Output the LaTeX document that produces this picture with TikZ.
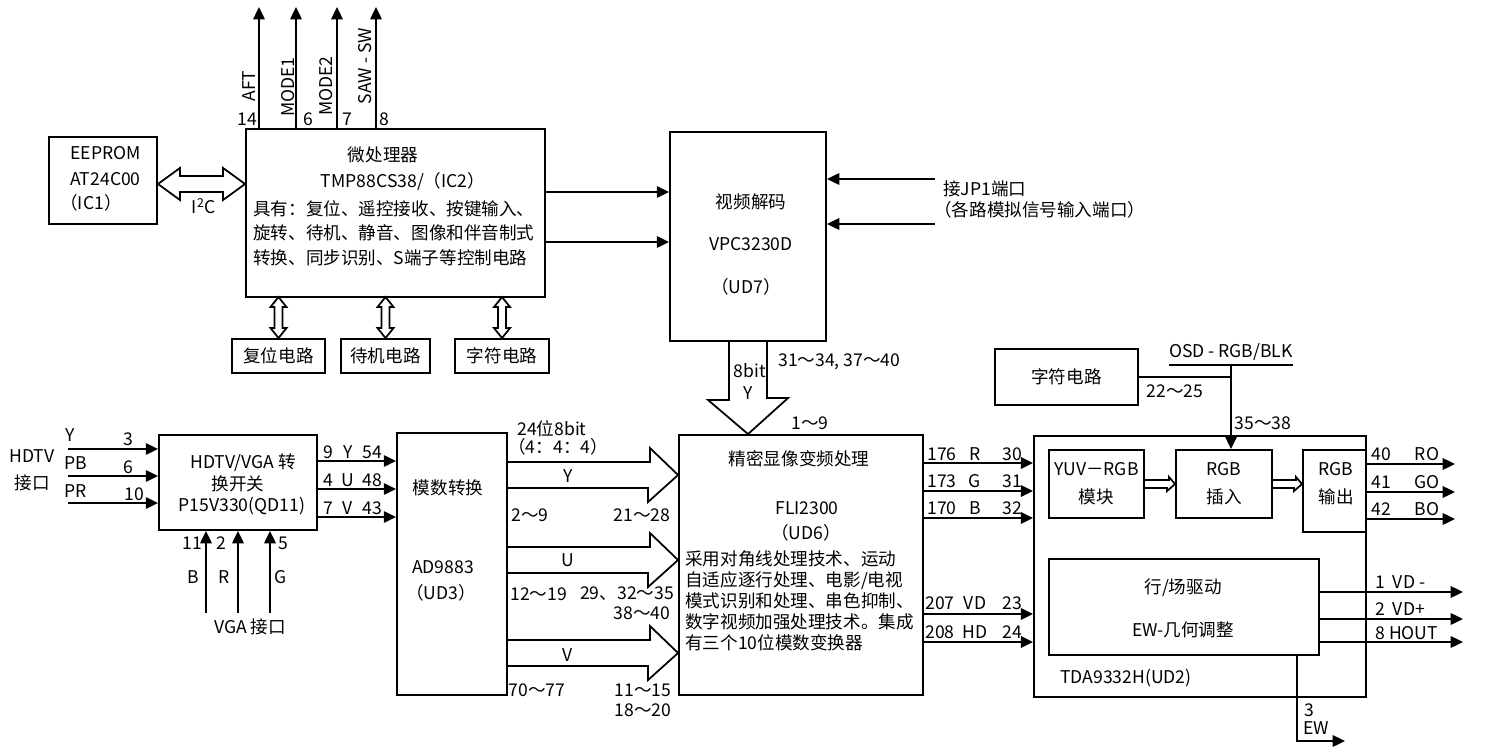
\documentclass[tikz,border=0pt]{standalone}
\usepackage{fontspec}
\setmainfont{Noto Sans CJK SC}
\usetikzlibrary{arrows.meta,calc}

\begin{document}
\begin{tikzpicture}[x=0.02cm, y=-0.02cm,
    box/.style={draw, line width=1.1pt, inner sep=0pt, font=\fontsize{10}{12}\selectfont},
    lbl/.style={inner sep=0pt, font=\fontsize{10}{12}\selectfont},
    sig/.style={line width=1.1pt, -{Triangle[length=7pt,width=6.5pt]}},
    hollow/.style={draw, line width=1pt, line join=miter}]
  \useasboundingbox (0,0) rectangle (1500,749);

  % EEPROM and microprocessor
  \node[box, minimum width=2.16cm, minimum height=1.74cm] (eeprom) at (103,180.5) {};
  \node[lbl, anchor=west] (eeprom1) at (70,153) {EEPROM};
  \node[lbl, anchor=west] (eeprom2) at (70,179) {AT24C00};
  \node[lbl, anchor=west] (eeprom3) at (60,203) {（IC1）};
  \node[box, minimum width=5.98cm, minimum height=3.36cm] (cpu) at (395.5,213) {};
  \node[lbl] (cpu1) at (383,155) {微处理器};
  \node[lbl] (cpu2) at (403,182) {TMP88CS38/（IC2）};
  \node[lbl, anchor=north west, align=left, font=\fontsize{10}{14}\selectfont] (cpu3) at (253,200)
    {具有：复位、遥控接收、按键输入、\\旋转、待机、静音、图像和伴音制式\\转换、同步识别、S端子等控制电路};
  \draw[hollow] (eeprom.east |- 0,184) -- ++(22,-16) -- ++(0,8) -- ($(cpu.west |- 0,176)+(-22,0)$)
    -- ++(0,-8) -- (cpu.west |- 0,184) -- ++(-22,16) -- ++(0,-8) -- ($(eeprom.east |- 0,192)+(22,0)$)
    -- ++(0,8) -- cycle;
  \node[lbl] (i2c) at (204,206) {I\textsuperscript{2}C};

  % Control outputs on top
  \coordinate (aft) at (259,7);
  \coordinate (modea) at (296,7);
  \coordinate (modeb) at (337,7);
  \coordinate (saw) at (376,7);
  \draw[sig] (cpu.north -| aft) -- (aft);
  \draw[sig] (cpu.north -| modea) -- (modea);
  \draw[sig] (cpu.north -| modeb) -- (modeb);
  \draw[sig] (cpu.north -| saw) -- (saw);
  \node[lbl, rotate=90] (aftl) at (249,86) {AFT};
  \node[lbl, rotate=90] (modeal) at (288,87) {MODE1};
  \node[lbl, rotate=90] (modebl) at (326,86) {MODE2};
  \node[lbl, rotate=90] (sawl) at (365,66) {SAW - SW};
  \node[lbl] (pin14) at (247,119) {14};
  \node[lbl] (pin6) at (308,119) {6};
  \node[lbl] (pin7) at (347,119) {7};
  \node[lbl] (pin8) at (384,119) {8};

  % Small circuits under the microprocessor
  \node[box, minimum width=1.86cm, minimum height=0.68cm] (rst) at (278.5,356) {复位电路};
  \node[box, minimum width=1.78cm, minimum height=0.68cm] (stby) at (385.5,356) {待机电路};
  \node[box, minimum width=1.88cm, minimum height=0.68cm] (chra) at (502,356) {字符电路};
  \foreach \b in {rst,stby,chra}
    \draw[hollow] (\b.north) -- ++(-8,-10) -- ++(4,0) -- ++(0,-21) -- ++(-4,0) -- ++(8,-10)
      -- ++(8,10) -- ++(-4,0) -- ++(0,21) -- ++(4,0) -- cycle;

  % Video decoder
  \node[box, minimum width=3.12cm, minimum height=4.18cm] (vd) at (748,236.5) {};
  \node[lbl] (vd1) at (751,202) {视频解码};
  \node[lbl] (vd2) at (751,244) {VPC3230D};
  \node[lbl] (vd3) at (746,287) {（UD7）};
  \draw[sig] (cpu.east |- 0,192) -- (vd.west |- 0,192);
  \draw[sig] (cpu.east |- 0,242) -- (vd.west |- 0,242);
  \coordinate (jpa) at (935,179);
  \coordinate (jpb) at (935,224);
  \draw[sig] (jpa) -- (vd.east |- jpa);
  \draw[sig] (jpb) -- (vd.east |- jpb);
  \node[lbl, anchor=west] (jp1) at (943,189) {接JP1端口};
  \node[lbl, anchor=west] (jp2) at (934,210) {（各路模拟信号输入端口）};

  % HDTV / VGA switch
  \node[box, minimum width=3.16cm, minimum height=1.9cm] (sw) at (238,482.5) {};
  \node[lbl] (sw1) at (243,463) {HDTV/VGA 转};
  \node[lbl] (sw2) at (238,484) {换开关};
  \node[lbl] (sw3) at (242,506) {P15V330(QD11)};
  \node[lbl] (hdtv1) at (32,456) {HDTV};
  \node[lbl] (hdtv2) at (32,483) {接口};
  \coordinate (hy) at (68,449);
  \coordinate (hpb) at (68,476);
  \coordinate (hpr) at (68,503);
  \draw[sig] (hy) -- (sw.west |- hy);
  \draw[sig] (hpb) -- (sw.west |- hpb);
  \draw[sig] (hpr) -- (sw.west |- hpr);
  \node[lbl] (hyl) at (70,435) {Y};
  \node[lbl] (hpbl) at (76,463) {PB};
  \node[lbl] (hprl) at (76,491) {PR};
  \node[lbl] (hyn) at (128,439) {3};
  \node[lbl] (hpbn) at (128,467) {6};
  \node[lbl] (hprn) at (134,494) {10};
  \coordinate (vb) at (206,613);
  \coordinate (vr) at (238,613);
  \coordinate (vg) at (270,613);
  \draw[sig] (vb) -- (sw.south -| vb);
  \draw[sig] (vr) -- (sw.south -| vr);
  \draw[sig] (vg) -- (sw.south -| vg);
  \node[lbl] (vbn) at (192,543) {11};
  \node[lbl] (vrn) at (221,543) {2};
  \node[lbl] (vgn) at (283,543) {5};
  \node[lbl] (vbl) at (193,577) {B};
  \node[lbl] (vrl) at (224,577) {R};
  \node[lbl] (vgl) at (281,577) {G};
  \node[lbl] (vga) at (250,627) {VGA 接口};

  % A/D converter
  \node[box, minimum width=2.2cm, minimum height=5.24cm] (adc) at (452,564) {};
  \node[lbl] (adc1) at (448,488) {模数转换};
  \node[lbl] (adc2) at (443,567) {AD9883};
  \node[lbl] (adc3) at (441,593) {（UD3）};
  \draw[sig] (sw.east |- 0,461) -- (adc.west |- 0,461);
  \draw[sig] (sw.east |- 0,489) -- (adc.west |- 0,489);
  \draw[sig] (sw.east |- 0,517) -- (adc.west |- 0,517);
  \node[lbl] (swy) at (328,452) {9};
  \node[lbl] (swyl) at (348,452) {Y};
  \node[lbl] (swyn) at (372,452) {54};
  \node[lbl] (swu) at (328,480) {4};
  \node[lbl] (swul) at (348,480) {U};
  \node[lbl] (swun) at (372,480) {48};
  \node[lbl] (swv) at (328,508) {7};
  \node[lbl] (swvl) at (348,508) {V};
  \node[lbl] (swvn) at (372,508) {43};

  % Scan converter
  \node[box, minimum width=4.88cm, minimum height=5.2cm] (fli) at (801,565) {};
  \node[lbl] (fli1) at (799,459) {精密显像变频处理};
  \node[lbl] (fli2) at (807,508) {FLI2300};
  \node[lbl] (fli3) at (806,533) {（UD6）};
  \node[lbl, anchor=north west, align=left, font=\fontsize{10}{12}\selectfont] (fli4) at (685,550)
    {采用对角线处理技术、运动\\自适应逐行处理、电影/电视\\模式识别和处理、串色抑制、\\数字视频加强处理技术。集成\\有三个10位模数变换器};
  \draw[hollow] ($(vd.south)+(-19,0)$) -- ++(0,58) -- ++(-21,0) -- (fli.north -| vd.south)
    -- ++(40,-36) -- ++(-21,0) -- ++(0,-58);
  \node[lbl] (bit8) at (750,371) {8bit};
  \node[lbl] (bity) at (748,393) {Y};
  \node[lbl, anchor=west] (vdpin) at (778,362) {31～34, 37～40};
  \node[lbl] (flipin) at (810,423) {1～9};

  % Y, U, V buses
  \draw[hollow] ($(adc.east |- 0,475)+(0,-13)$) -- ++(142,0) -- ++(0,-14) -- (fli.west |- 0,475)
    -- ++(-30,27) -- ++(0,-14) -- ++(-142,0);
  \draw[hollow] ($(adc.east |- 0,560)+(0,-13)$) -- ++(142,0) -- ++(0,-14) -- (fli.west |- 0,560)
    -- ++(-30,27) -- ++(0,-14) -- ++(-142,0);
  \draw[hollow] ($(adc.east |- 0,653)+(0,-13)$) -- ++(142,0) -- ++(0,-14) -- (fli.west |- 0,653)
    -- ++(-30,27) -- ++(0,-14) -- ++(-142,0);
  \node[lbl, anchor=west] (bus1) at (517,429) {24位8bit};
  \node[lbl, anchor=west] (bus2) at (508,447) {（4：4：4）};
  \node[lbl] (busy) at (568,476) {Y};
  \node[lbl] (busu) at (568,560) {U};
  \node[lbl] (busv) at (568,655) {V};
  \node[lbl, anchor=west] (busya) at (511,515) {2～9};
  \node[lbl] (busyb) at (642,515) {21～28};
  \node[lbl, anchor=west] (busua) at (510,594) {12～19};
  \node[lbl] (busub) at (627,594) {29、32～35};
  \node[lbl] (busuc) at (642,613) {38～40};
  \node[lbl] (busva) at (537,690) {70～77};
  \node[lbl] (busvb) at (643,690) {11～15};
  \node[lbl] (busvc) at (643,710) {18～20};

  % Deflection / RGB processor
  \node[box, minimum width=6.64cm, minimum height=5.22cm] (tda) at (1200,566.5) {};
  \node[box, minimum width=1.9cm, minimum height=1.36cm, align=center, font=\fontsize{10}{16}\selectfont] (yuv) at (1096.5,484) {YUV－RGB\\模块};
  \node[box, minimum width=1.92cm, minimum height=1.36cm, align=center, font=\fontsize{10}{16}\selectfont] (ins) at (1224,484) {RGB\\插入};
  \node[box, minimum width=1.26cm, minimum height=1.64cm] (outb) at (1334.5,491) {};
  \node[lbl, align=center, font=\fontsize{10}{16}\selectfont] (outbl) at (1336,484) {RGB\\输出};
  \node[box, minimum width=5.4cm, minimum height=1.92cm] (drv) at (1184,607) {};
  \node[lbl] (drv1) at (1183,588) {行/场驱动};
  \node[lbl] (drv2) at (1183,630) {EW-几何调整};
  \node[lbl, anchor=west] (tdal) at (1060,678) {TDA9332H(UD2)};
  \draw[hollow] ($(yuv.east)+(0,-4)$) -- ++(24,0) -- ++(0,-3) -- (ins.west) -- ++(-8,7) -- ++(0,-3) -- ++(-24,0);
  \draw[hollow] ($(ins.east)+(0,-4)$) -- ++(23,0) -- ++(0,-3) -- (outb.west |- ins.east) -- ++(-8,7) -- ++(0,-3) -- ++(-23,0);

  % Links from the scan converter
  \draw[sig] (fli.east |- 0,463) -- (tda.west |- 0,463);
  \draw[sig] (fli.east |- 0,491) -- (tda.west |- 0,491);
  \draw[sig] (fli.east |- 0,518) -- (tda.west |- 0,518);
  \draw[sig] (fli.east |- 0,614) -- (tda.west |- 0,614);
  \draw[sig] (fli.east |- 0,642) -- (tda.west |- 0,642);
  \node[lbl] (fr1) at (942,454) {176};
  \node[lbl] (fr2) at (975,454) {R};
  \node[lbl] (fr3) at (1012,454) {30};
  \node[lbl] (fg1) at (942,481) {173};
  \node[lbl] (fg2) at (975,481) {G};
  \node[lbl] (fg3) at (1012,481) {31};
  \node[lbl] (fb1) at (942,508) {170};
  \node[lbl] (fb2) at (975,508) {B};
  \node[lbl] (fb3) at (1012,508) {32};
  \node[lbl] (fv1) at (940,603) {207};
  \node[lbl] (fv2) at (975,603) {VD};
  \node[lbl] (fv3) at (1012,603) {23};
  \node[lbl] (fh1) at (940,632) {208};
  \node[lbl] (fh2) at (975,632) {HD};
  \node[lbl] (fh3) at (1012,632) {24};

  % OSD character circuit
  \node[box, minimum width=2.86cm, minimum height=1.12cm] (chrb) at (1066.5,377) {字符电路};
  \node[lbl, anchor=south, inner ysep=2pt] (osd) at (1231,365) {OSD - RGB/BLK};
  \draw[line width=1.1pt] (osd.south west) -- (osd.south east);
  \draw[line width=1.1pt] (chrb.east) -- (chrb.east -| osd.south);
  \draw[sig] (osd.south) -- (ins.north -| osd.south);
  \node[lbl] (chrpin) at (1175,391) {22～25};
  \node[lbl] (inspin) at (1263,423) {35～38};

  % Outputs
  \coordinate (ro) at (1455,464);
  \coordinate (go) at (1455,492);
  \coordinate (bo) at (1455,519);
  \draw[sig] (outb.east |- ro) -- (ro);
  \draw[sig] (outb.east |- go) -- (go);
  \draw[sig] (outb.east |- bo) -- (bo);
  \node[lbl] (rol) at (1381,454) {40};
  \node[lbl] (rot) at (1427,454) {RO};
  \node[lbl] (gol) at (1381,482) {41};
  \node[lbl] (got) at (1427,482) {GO};
  \node[lbl] (bol) at (1381,509) {42};
  \node[lbl] (bot) at (1427,509) {BO};
  \coordinate (vdm) at (1463,592);
  \coordinate (vdp) at (1463,619);
  \coordinate (hout) at (1463,642);
  \draw[sig] (drv.east |- vdm) -- (vdm);
  \draw[sig] (drv.east |- vdp) -- (vdp);
  \draw[sig] (drv.east |- hout) -- (hout);
  \node[lbl, anchor=west] (vdml) at (1375,582) {1\ \ VD -};
  \node[lbl, anchor=west] (vdpl) at (1375,609) {2\ \ VD+};
  \node[lbl, anchor=west] (houtl) at (1375,633) {8 HOUT};
  \coordinate (ewk) at (1297,741);
  \coordinate (ew) at (1345,741);
  \draw[sig] (drv.south -| ewk) -- (ewk) -- (ew);
  \node[lbl] (ewn) at (1309,710) {3};
  \node[lbl] (ewl) at (1316,728) {EW};
\end{tikzpicture}
\end{document}
